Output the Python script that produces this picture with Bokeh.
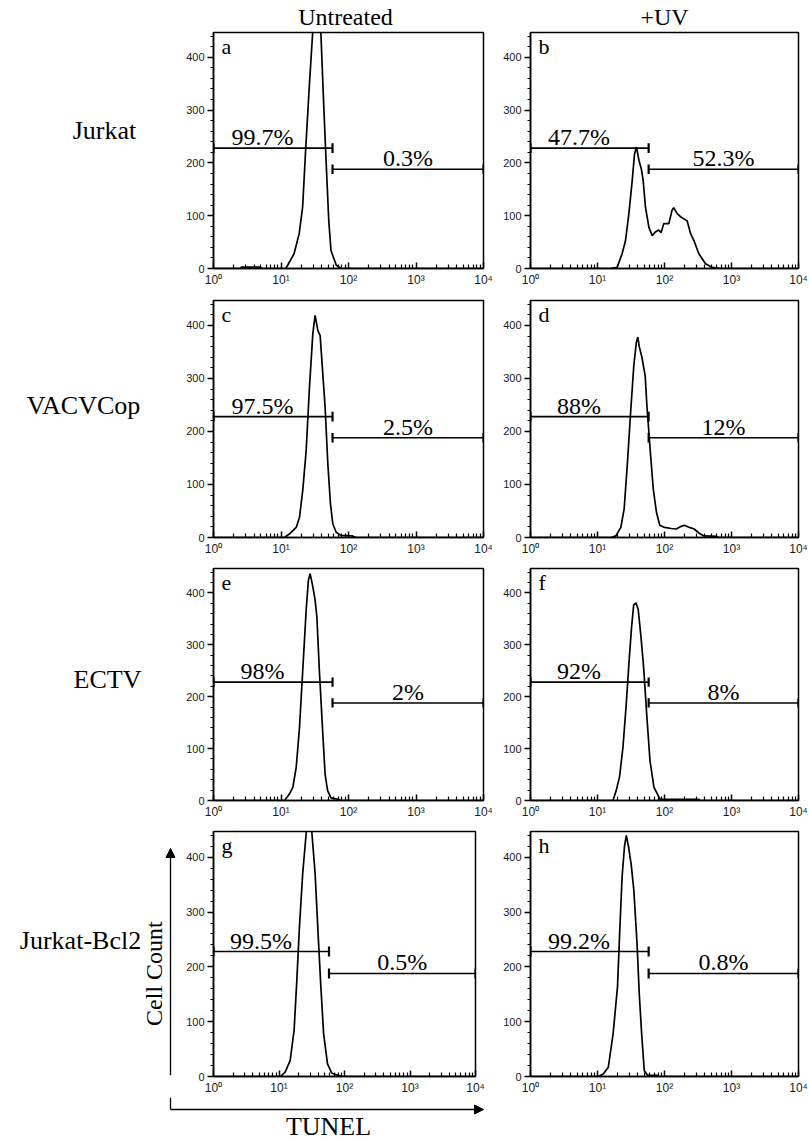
import math
from bokeh.plotting import figure
from bokeh.models import Range1d, FixedTicker, SingleIntervalTicker, Label, Arrow, NormalHead
from bokeh.layouts import column, row
from bokeh.embed import file_html
from bokeh.resources import INLINE

SERIF = "Liberation Serif"
SANS = "Liberation Sans"

# ---------------- data ----------------
col_titles = ["Untreated", "+UV"]
row_titles = ["Jurkat", "VACVCop", "ECTV", "Jurkat-Bcl2"]
letters = ["a", "b", "c", "d", "e", "f", "g", "h"]

a_x = [1, 2.5, 2.6, 5.0, 5.1, 11.8, 15.6, 18.6, 20.9, 23.3, 26.2, 29.4, 33, 37, 39, 42.5, 46.5, 51, 55, 66, 78, 10000]
a_y = [0, 0, 2.5, 2.5, 0, 0, 28, 66, 116, 230, 343, 445, 480, 480, 445, 324, 205, 91, 34, 6, 0, 0]

b_x = [1, 15.6, 19.6, 23.3, 26.2, 29.4, 33, 35.7, 38.2, 41.5, 45, 48, 52, 58.5, 65.6, 73, 82, 89, 97.5, 116, 130, 137, 155, 178, 200, 218, 245, 275, 325, 410, 515, 690, 10000]
b_y = [0, 0, 2, 28, 53, 104, 167, 217, 230, 205, 189, 167, 116, 78, 62, 69, 73, 68, 85, 85, 111, 115, 104, 97, 93, 90, 66, 53, 28, 9, 2, 0, 0]

c_x = [1, 11.3, 13.4, 16.8, 18.8, 21, 23.6, 26.4, 29.6, 32, 35.2, 38, 41.6, 45, 49.4, 54, 58.5, 65.6, 77, 113, 129, 10000]
c_y = [0, 0, 7, 19, 38, 89, 164, 283, 384, 419, 390, 381, 309, 246, 139, 64, 26, 10, 4, 3, 0, 0]

d_x = [1, 15.9, 18.8, 22.3, 25, 28, 31, 34.8, 38, 40, 42, 46, 51.5, 54.6, 61, 68, 76, 85, 100, 126, 150, 178, 198, 235, 277, 330, 387, 605, 650, 10000]
d_y = [0, 0, 3, 19, 54, 142, 230, 324, 368, 378, 360, 340, 305, 249, 167, 91, 47, 23, 19, 17, 16, 21, 23, 19, 16, 8, 3, 2, 0, 0]

e_x = [1, 11.3, 13.4, 15, 16.8, 18.8, 21, 23.6, 25.5, 27, 29.6, 32, 34, 37, 41.6, 45, 49, 55, 72, 75, 10000]
e_y = [0, 0, 13, 26, 64, 141, 251, 367, 425, 437, 412, 386, 354, 251, 129, 51, 19, 5, 2, 0, 0]

f_x = [1, 17, 19, 21.3, 24, 26.7, 29.7, 32.3, 34.7, 37.5, 40.5, 44.5, 48.7, 54.6, 60.7, 69.5, 83, 87, 330, 335, 10000]
f_y = [0, 0, 19, 45, 103, 181, 271, 335, 377, 381, 368, 316, 258, 161, 77, 26, 6, 2, 2, 0, 0]

g_x = [1, 10.5, 12.4, 14.8, 17, 18.7, 20.5, 23, 26.1, 28, 30, 31.7, 35.6, 40, 43.6, 48, 55, 64, 86, 95, 10000]
g_y = [0, 0, 8, 29, 84, 175, 272, 370, 446, 480, 480, 446, 370, 248, 163, 78, 23, 6, 1, 0, 0]

h_x = [1, 10.4, 12.3, 14.5, 17.1, 19.9, 21.4, 23.3, 25.3, 26.9, 29, 31.8, 34.8, 38.9, 42, 45.6, 49.9, 56, 78, 80, 10000]
h_y = [0, 0, 5, 17, 78, 164, 261, 365, 420, 440, 420, 387, 341, 243, 151, 78, 11, 2, 2, 0, 0]

left_pct = ["99.7%", "47.7%", "97.5%", "88%", "98%", "92%", "99.5%", "99.2%"]
right_pct = ["0.3%", "52.3%", "2.5%", "12%", "2%", "8%", "0.5%", "0.8%"]
gate_cut = [58, 58, 58, 58, 58, 58, 58, 58]
gate_left_y = 228
gate_right_y = 188

x_tick_values = [1, 10, 100, 1000, 10000]
x_tick_labels = ["10\u2070", "10\u00b9", "10\u00b2", "10\u00b3", "10\u2074"]

YMAX = 447
XMIN, XMAX = 1, 10000

series = [(a_x, a_y), (b_x, b_y), (c_x, c_y), (d_x, d_y),
          (e_x, e_y), (f_x, f_y), (g_x, g_y), (h_x, h_y)]

# ---------------- layout (page pixels) ----------------
PAGE_W = 809
HEADER_H = 31
LABEL_W = 180
ROWS = [
    dict(top=1, fh=236, bottom=24, fw_left=270),
    dict(top=8, fh=237, bottom=23, fw_left=270),
    dict(top=8, fh=232, bottom=23, fw_left=270),
    dict(top=8, fh=245, bottom=20, fw_left=262),
]
LEFT_W, LEFT_BL = 320, 33            # left panel figure: x 180 .. 500
RIGHT_BL, RIGHT_FW, RIGHT_BR = 30, 268, 11   # right panel figure: x 500 .. 809
BOTTOM_H = 44
ROW_LABEL_POS = [(104, 139), (83, 411), (107, 686), (80, 945)]


def px_x(dpx, fw):
    return 10 ** (dpx / fw * 4.0)


def px_y(dpx, fh):
    return dpx / fh * YMAX


minor_x = [k * 10 ** n for n in range(4) for k in range(2, 10)]


def blank(w, y_top, y_bot):
    p = figure(width=w, height=y_bot - y_top, x_range=Range1d(0, w), y_range=Range1d(y_bot, y_top),
               output_backend="svg", toolbar_location=None, min_border=0,
               x_axis_location=None, y_axis_location=None)
    p.min_border_left = p.min_border_right = p.min_border_top = p.min_border_bottom = 0
    p.outline_line_color = None
    p.xgrid.visible = False
    p.ygrid.visible = False
    p.background_fill_color = "white"
    p.border_fill_color = "white"
    return p


def make_panel(i, fw, fh, bl, br, bt, bb):
    xs, ys = series[i]
    p = figure(frame_width=fw, frame_height=fh,
               x_axis_type="log", x_range=Range1d(XMIN, XMAX), y_range=Range1d(0, YMAX),
               output_backend="svg", toolbar_location=None,
               min_border_left=bl, min_border_right=br, min_border_top=bt, min_border_bottom=bb)
    p.xgrid.visible = False
    p.ygrid.visible = False
    p.outline_line_color = "black"
    p.outline_line_width = 1.5
    p.outline_line_alpha = 1.0
    p.background_fill_color = "white"
    p.border_fill_color = "white"

    xa = p.xaxis[0]
    xa.ticker = FixedTicker(ticks=x_tick_values, minor_ticks=minor_x)
    xa.major_label_overrides = {v: t for v, t in zip(x_tick_values, x_tick_labels)}
    xa.major_tick_in = 6
    xa.major_tick_out = 0
    xa.minor_tick_in = 4
    xa.minor_tick_out = 0
    xa.major_label_standoff = 4

    ya = p.yaxis[0]
    ya.ticker = SingleIntervalTicker(interval=100, num_minor_ticks=5)
    ya.major_tick_in = 0
    ya.major_tick_out = 6
    ya.minor_tick_in = 0
    ya.minor_tick_out = 3
    ya.major_label_standoff = 3

    for ax in (xa, ya):
        ax.axis_line_width = 1.5
        ax.axis_line_color = "black"
        ax.major_tick_line_width = 1.5
        ax.major_tick_line_color = "black"
        ax.minor_tick_line_width = 1.2
        ax.minor_tick_line_color = "black"
        ax.major_label_text_font = SANS
        ax.major_label_text_color = "#1a1a1a"
    xa.major_label_text_font_size = "12px"
    ya.major_label_text_font_size = "11px"

    # histogram
    p.line(xs, ys, line_color="black", line_width=1.7)

    # gates
    cut = gate_cut[i]
    p.segment(x0=[XMIN, cut], y0=[gate_left_y, gate_right_y],
              x1=[cut, XMAX], y1=[gate_left_y, gate_right_y],
              line_color="black", line_width=1.6)
    cap = 9
    p.segment(x0=[XMIN, cut, cut, XMAX],
              y0=[gate_left_y - cap, gate_left_y - cap, gate_right_y - cap, gate_right_y - cap],
              x1=[XMIN, cut, cut, XMAX],
              y1=[gate_left_y + cap, gate_left_y + cap, gate_right_y + cap, gate_right_y + cap],
              line_color="black", line_width=2.2)

    p.add_layout(Label(x=5.3, y=gate_left_y + px_y(11, fh), text=left_pct[i],
                       text_align="center", text_baseline="middle",
                       text_font=SERIF, text_font_size="24px", text_color="black"))
    p.add_layout(Label(x=10 ** ((math.log10(cut) + 4) / 2), y=gate_right_y + px_y(11, fh), text=right_pct[i],
                       text_align="center", text_baseline="middle",
                       text_font=SERIF, text_font_size="24px", text_color="black"))
    # panel letter
    p.add_layout(Label(x=px_x(8, fw), y=YMAX - px_y(14, fh), text=letters[i],
                       text_align="left", text_baseline="middle",
                       text_font=SERIF, text_font_size="22px", text_color="black"))
    return p


children = []

# column headers
header = blank(PAGE_W, 0, HEADER_H)
for t, cx in zip(col_titles, [345, 664]):
    header.add_layout(Label(x=cx, y=16, text=t, text_align="center", text_baseline="middle",
                            text_font=SERIF, text_font_size="24px", text_color="black"))
children.append(header)

y_cursor = HEADER_H
for r, cfg in enumerate(ROWS):
    fh = cfg["fh"]
    fwl = cfg["fw_left"]
    row_h = cfg["top"] + fh + cfg["bottom"]
    lab = blank(LABEL_W, y_cursor, y_cursor + row_h)
    cx, cy = ROW_LABEL_POS[r]
    lab.add_layout(Label(x=cx, y=cy, text=row_titles[r], text_align="center", text_baseline="middle",
                         text_font=SERIF, text_font_size="26px", text_color="black"))
    if r == 3:
        lab.add_layout(Arrow(x_start=170, y_start=y_cursor + row_h, x_end=170, y_end=842,
                             line_color="black", line_width=1.3,
                             end=NormalHead(size=9, fill_color="black", line_color="black")))
        lab.add_layout(Label(x=153, y=982, text="Cell Count", angle=math.pi / 2,
                             text_align="center", text_baseline="middle",
                             text_font=SERIF, text_font_size="24px", text_color="black"))
    left = make_panel(2 * r, fwl, fh, LEFT_BL, LEFT_W - LEFT_BL - fwl, cfg["top"], cfg["bottom"])
    right = make_panel(2 * r + 1, RIGHT_FW, fh, RIGHT_BL, RIGHT_BR, cfg["top"], cfg["bottom"])
    children.append(row(lab, left, right))
    y_cursor += row_h

# bottom strip with the axis arrow and TUNEL title
bottom = blank(PAGE_W, y_cursor, y_cursor + BOTTOM_H)
bottom.segment(x0=[170], y0=[y_cursor], x1=[170], y1=[1108], line_color="black", line_width=1.3)
bottom.add_layout(Arrow(x_start=170, y_start=1108, x_end=483, y_end=1108,
                        line_color="black", line_width=1.3,
                        end=NormalHead(size=9, fill_color="black", line_color="black")))
bottom.add_layout(Label(x=328, y=1125, text="TUNEL", text_align="center", text_baseline="middle",
                        text_font=SERIF, text_font_size="26px", text_color="black"))
children.append(bottom)

layout = column(*children)
open("out.html", "w").write(file_html(layout, INLINE, title="TUNEL histograms"))
